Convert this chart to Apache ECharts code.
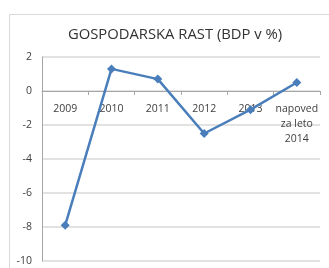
<!DOCTYPE html>
<html><head><meta charset="utf-8">
<script src="https://cdn.jsdelivr.net/npm/echarts@6/dist/echarts.min.js"></script>
<style>html,body{margin:0;padding:0;background:#fff}#c{width:329px;height:268px}</style>
</head><body><div id="c"></div>
<script>
var categories = ['2009', '2010', '2011', '2012', '2013', 'napoved\nza leto\n2014'];
var values = [-7.9, 1.3, 0.7, -2.5, -1.1, 0.5];
var yMin = -10, yMax = 2, yStep = 2;
var title = 'GOSPODARSKA RAST (BDP v %)';

var chart = echarts.init(document.getElementById('c'), null, {renderer: 'canvas'});
chart.setOption({
  animation: false,
  backgroundColor: '#fff',
  graphic: [{
    type: 'rect', left: 7, top: 12,
    shape: {width: 330, height: 270},
    style: {fill: 'none', stroke: '#d9d9d9', lineWidth: 1}
  }],
  title: {
    text: title, left: 170, top: 22, textAlign: 'center',
    textStyle: {fontFamily: 'Open Sans', fontSize: 14.8, fontWeight: 'normal', color: '#333333'}
  },
  grid: {left: 42, right: 9, top: 57, bottom: 7, containLabel: false, outerBoundsMode: 'none'},
  xAxis: {
    type: 'category', data: categories, boundaryGap: true, position: 'bottom',
    axisLine: {onZero: false, lineStyle: {color: '#a6a6a6', width: 1}},
    axisTick: {show: true, length: 4, lineStyle: {color: '#a6a6a6'}},
    axisLabel: {fontFamily: 'Open Sans', fontSize: 10.5, color: '#404040', margin: 11, lineHeight: 15, interval: 0},
    splitLine: {show: false}
  },
  yAxis: {
    type: 'value', min: yMin, max: yMax, interval: yStep,
    axisLine: {show: true, onZero: false, lineStyle: {color: '#a6a6a6'}},
    axisTick: {show: false},
    axisLabel: {fontFamily: 'Open Sans', fontSize: 10.5, color: '#404040', margin: 10},
    splitLine: {lineStyle: {color: '#d9d9d9', width: 1.5}}
  },
  series: [{
    type: 'line', data: values, z: 5,
    symbol: 'diamond', symbolSize: 9,
    lineStyle: {color: '#4a7ebb', width: 2.5},
    itemStyle: {color: '#4a7ebb'}
  }]
});
var yZero = chart.convertToPixel({yAxisIndex: 0}, 0);
var yBottom = chart.convertToPixel({yAxisIndex: 0}, yMin);
chart.setOption({xAxis: {offset: yZero - yBottom}});
</script></body></html>
